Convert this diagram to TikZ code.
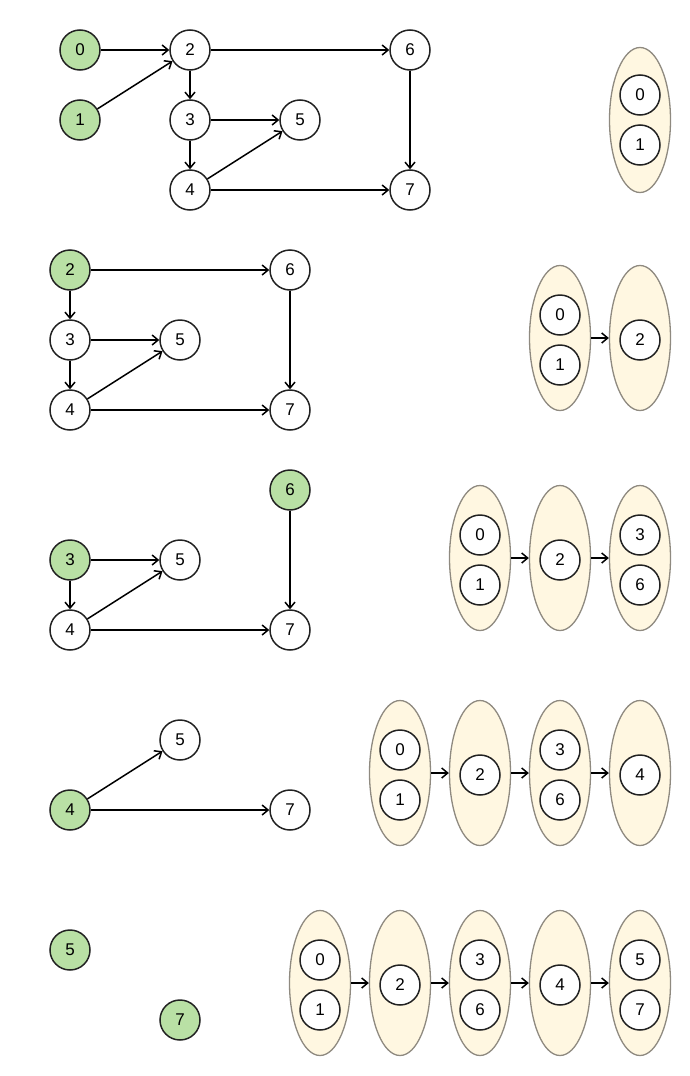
\documentclass[tikz,border=0pt]{standalone}
\usepackage{fontspec}
\setmainfont{Liberation Sans}
\usetikzlibrary{shapes.geometric,arrows.meta}
\definecolor{gfill}{HTML}{B9E0A5}
\definecolor{nstroke}{HTML}{222222}
\definecolor{efill}{HTML}{FFF7E1}
\definecolor{estroke}{HTML}{8F8A80}
\tikzset{
  vtx/.style={circle,draw=nstroke,line width=1.5pt,fill=white,minimum size=40pt,inner sep=0pt,font=\fontsize{17}{17}\selectfont},
  src/.style={vtx,fill=gfill},
  grp/.style={ellipse,draw=estroke,line width=1.3pt,fill=efill,minimum width=61pt,minimum height=145pt,inner sep=0pt},
  edge/.style={line width=1.5pt,-{Straight Barb[length=6pt,width=10pt,line width=1.5pt]}},
}
\begin{document}
\begin{tikzpicture}[x=1pt,y=-1pt]
\useasboundingbox (0,0) rectangle (690,1076);
% ---------- panel 1
\node[src] (a0) at (80,50) {0};
\node[src] (a1) at (80,120) {1};
\node[vtx] (a2) at (190,50) {2};
\node[vtx] (a3) at (190,120) {3};
\node[vtx] (a4) at (190,190) {4};
\node[vtx] (a5) at (300,120) {5};
\node[vtx] (a6) at (410,50) {6};
\node[vtx] (a7) at (410,190) {7};
\draw[edge] (a0) -- (a2);
\draw[edge] (a1) -- (a2);
\draw[edge] (a2) -- (a3);
\draw[edge] (a2) -- (a6);
\draw[edge] (a3) -- (a5);
\draw[edge] (a3) -- (a4);
\draw[edge] (a4) -- (a5);
\draw[edge] (a4) -- (a7);
\draw[edge] (a6) -- (a7);
\node[grp] (ag1) at (640,120) {};
\node[vtx] (ag1a) at (640,95) {0};
\node[vtx] (ag1b) at (640,145) {1};
% ---------- panel 2
\node[src] (b2) at (70,270) {2};
\node[vtx] (b3) at (70,340) {3};
\node[vtx] (b4) at (70,410) {4};
\node[vtx] (b5) at (180,340) {5};
\node[vtx] (b6) at (290,270) {6};
\node[vtx] (b7) at (290,410) {7};
\draw[edge] (b2) -- (b3);
\draw[edge] (b2) -- (b6);
\draw[edge] (b3) -- (b5);
\draw[edge] (b3) -- (b4);
\draw[edge] (b4) -- (b5);
\draw[edge] (b4) -- (b7);
\draw[edge] (b6) -- (b7);
\node[grp] (bg1) at (560,338) {};
\node[grp] (bg2) at (640,338) {};
\node[vtx] (bg1a) at (560,315) {0};
\node[vtx] (bg1b) at (560,365) {1};
\node[vtx] (bg2a) at (640,340) {2};
\draw[edge] (bg1) -- (bg2);
% ---------- panel 3
\node[src] (c3) at (70,560) {3};
\node[vtx] (c4) at (70,630) {4};
\node[vtx] (c5) at (180,560) {5};
\node[src] (c6) at (290,490) {6};
\node[vtx] (c7) at (290,630) {7};
\draw[edge] (c3) -- (c5);
\draw[edge] (c3) -- (c4);
\draw[edge] (c4) -- (c5);
\draw[edge] (c4) -- (c7);
\draw[edge] (c6) -- (c7);
\node[grp] (cg1) at (480,558) {};
\node[grp] (cg2) at (560,558) {};
\node[grp] (cg3) at (640,558) {};
\node[vtx] (cg1a) at (480,535) {0};
\node[vtx] (cg1b) at (480,585) {1};
\node[vtx] (cg2a) at (560,560) {2};
\node[vtx] (cg3a) at (640,535) {3};
\node[vtx] (cg3b) at (640,585) {6};
\draw[edge] (cg1) -- (cg2);
\draw[edge] (cg2) -- (cg3);
% ---------- panel 4
\node[src] (d4) at (70,810) {4};
\node[vtx] (d5) at (180,740) {5};
\node[vtx] (d7) at (290,810) {7};
\draw[edge] (d4) -- (d5);
\draw[edge] (d4) -- (d7);
\node[grp] (dg1) at (400,773) {};
\node[grp] (dg2) at (480,773) {};
\node[grp] (dg3) at (560,773) {};
\node[grp] (dg4) at (640,773) {};
\node[vtx] (dg1a) at (400,750) {0};
\node[vtx] (dg1b) at (400,800) {1};
\node[vtx] (dg2a) at (480,775) {2};
\node[vtx] (dg3a) at (560,750) {3};
\node[vtx] (dg3b) at (560,800) {6};
\node[vtx] (dg4a) at (640,775) {4};
\draw[edge] (dg1) -- (dg2);
\draw[edge] (dg2) -- (dg3);
\draw[edge] (dg3) -- (dg4);
% ---------- panel 5
\node[src] (e5) at (70,950) {5};
\node[src] (e7) at (180,1020) {7};
\node[grp] (eg1) at (320,983) {};
\node[grp] (eg2) at (400,983) {};
\node[grp] (eg3) at (480,983) {};
\node[grp] (eg4) at (560,983) {};
\node[grp] (eg5) at (640,983) {};
\node[vtx] (eg1a) at (320,960) {0};
\node[vtx] (eg1b) at (320,1010) {1};
\node[vtx] (eg2a) at (400,985) {2};
\node[vtx] (eg3a) at (480,960) {3};
\node[vtx] (eg3b) at (480,1010) {6};
\node[vtx] (eg4a) at (560,985) {4};
\node[vtx] (eg5a) at (640,960) {5};
\node[vtx] (eg5b) at (640,1010) {7};
\draw[edge] (eg1) -- (eg2);
\draw[edge] (eg2) -- (eg3);
\draw[edge] (eg3) -- (eg4);
\draw[edge] (eg4) -- (eg5);
\end{tikzpicture}
\end{document}
